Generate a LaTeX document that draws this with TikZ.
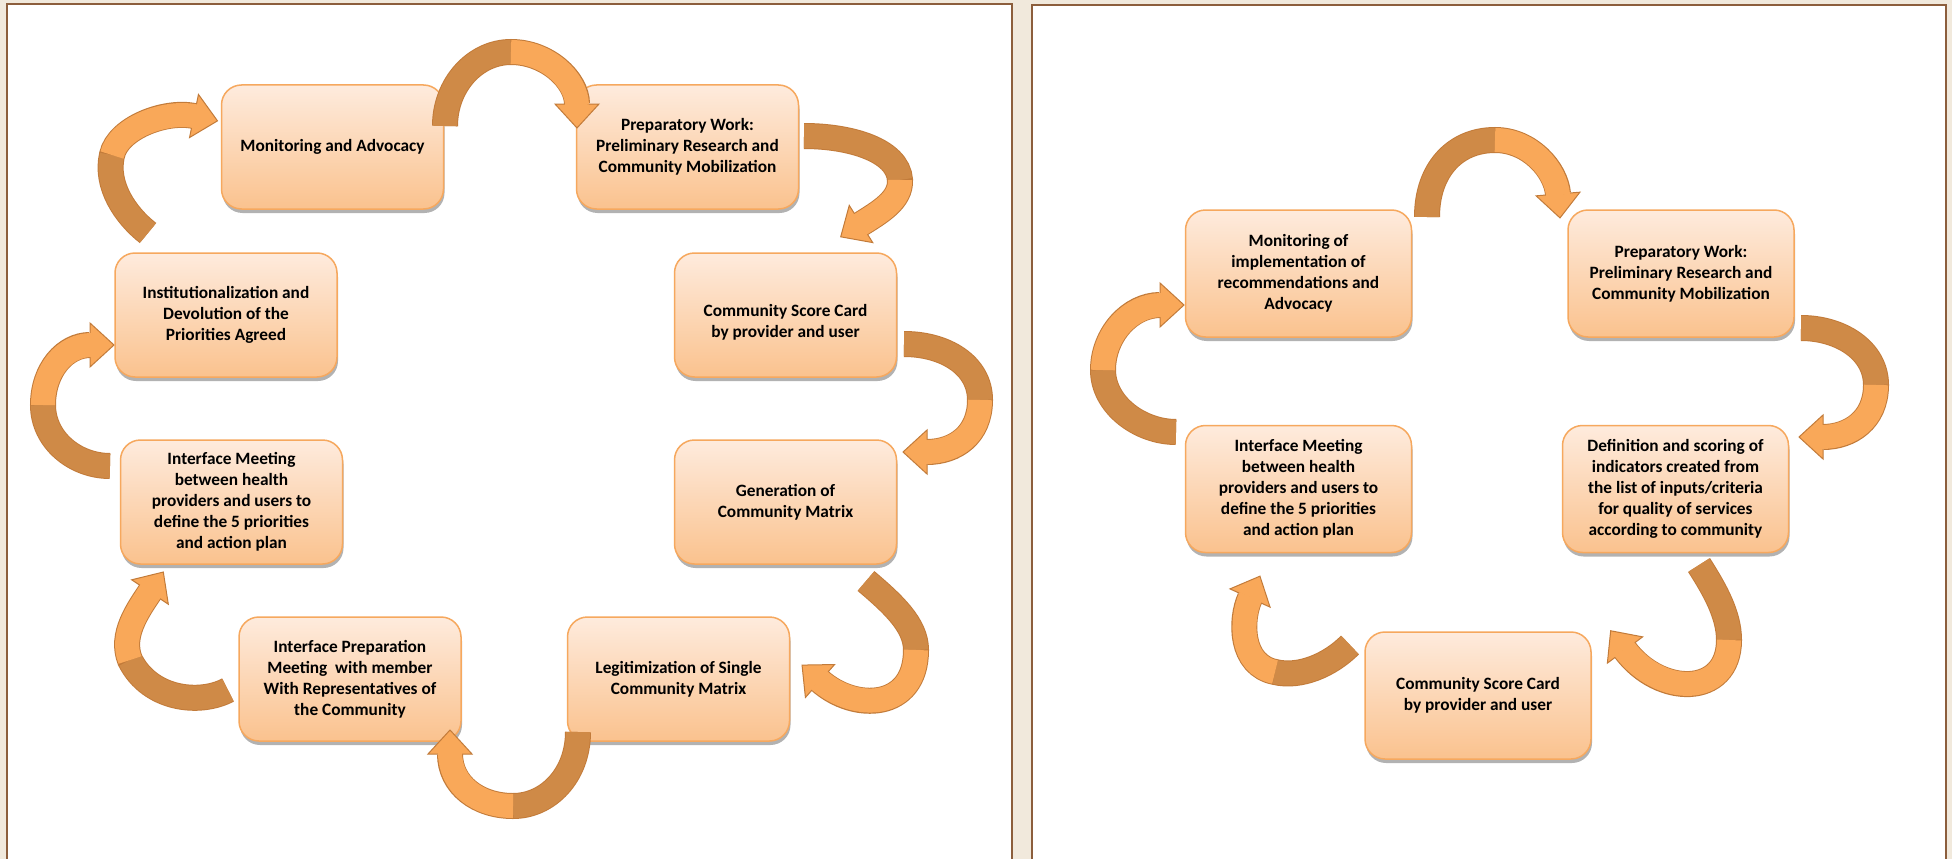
\documentclass[tikz,border=0pt]{standalone}
\usepackage{fontspec}
\setmainfont{Carlito}
\usetikzlibrary{calc,shadows}
\definecolor{bg}{HTML}{F1E9DC}
\definecolor{frame}{HTML}{8C5E3C}
\definecolor{boxtop}{HTML}{FEEBDD}
\definecolor{boxbot}{HTML}{FAC28E}
\definecolor{boxedge}{HTML}{F6A85E}
\definecolor{adark}{HTML}{CF8A47}
\definecolor{alight}{HTML}{F9A859}
\definecolor{aedge}{HTML}{C27B3A}
\newcommand{\ribbon}[7]{%
  \draw[line width=26pt, draw=aedge] (#1) .. controls (#2) and (#3) .. (#4) .. controls (#5) and (#6) .. (#7);
  \filldraw[fill=alight, draw=aedge, line width=1pt, line join=miter] ($(#7)!22pt!90:(#6)$) -- ($(#7)!-24pt!(#6)$) -- ($(#7)!22pt!-90:(#6)$) -- cycle;
  \draw[line width=24pt, draw=adark] (#1) .. controls (#2) and (#3) .. (#4);
  \draw[line width=24pt, draw=alight, shorten >=-1.5pt] (#4) .. controls (#5) and (#6) .. (#7);
}
\tikzset{
  box/.style={draw=boxedge, line width=1.5pt, rounded corners=20pt,
    top color=boxtop, bottom color=boxbot, minimum width=222pt, minimum height=124pt,
    align=center, font=\fontsize{17.3}{21}\selectfont\bfseries, text=black,
    drop shadow={shadow xshift=1pt, shadow yshift=-4pt, opacity=0.3, fill=black}},
  rbox/.style={box, minimum width=226pt, minimum height=127pt}
}
\begin{document}
\begin{tikzpicture}[x=1pt,y=-1pt]
\useasboundingbox (0,0) rectangle (1952,859);
\fill[bg] (0,0) rectangle (1952,859);
\filldraw[fill=white, draw=frame, line width=2.5pt] (7,4) rectangle (1012,880);
\filldraw[fill=white, draw=frame, line width=2.5pt] (1032,5) rectangle (1946,880);
% left panel boxes
\node[box] (l1) at (332.5,147) {Monitoring and Advocacy};
\node[box] (l2) at (687.5,147) {Preparatory Work:\\Preliminary Research and\\Community Mobilization};
\node[box] (l3) at (785.5,315) {\rule{0pt}{26pt}Community Score Card\\by provider and user};
\node[box] (l4) at (785.5,502) {Generation of\\Community Matrix};
\node[box] (l5) at (678.5,679) {Legitimization of Single\\Community Matrix};
\node[box] (l6) at (350,679) {Interface Preparation\\Meeting\ \ with member\\With Representatives of\\the Community};
\node[box] (l7) at (231.5,502) {Interface Meeting\\between health\\providers and users to\\define the 5 priorities\\and action plan};
\node[box] (l8) at (226,315) {Institutionalization and\\Devolution of the\\Priorities Agreed};
% right panel boxes
\node[rbox] (r1) at (1298.5,273.5) {Monitoring of\\implementation of\\recommendations and\\Advocacy};
\node[rbox] (r2) at (1681,273.5) {Preparatory Work:\\Preliminary Research and\\Community Mobilization};
\node[rbox] (r3) at (1675.5,489) {Definition and scoring of\\indicators created from\\the list of inputs/criteria\\for quality of services\\according to community};
\node[rbox] (r4) at (1478,695.5) {Community Score Card\\by provider and user};
\node[rbox] (r5) at (1298.5,489) {Interface Meeting\\between health\\providers and users to\\define the 5 priorities\\and action plan};
% left panel arrows
\ribbon{445,126}{445,85}{475,52}{511,52}{547,52}{577,80}{577,104}
\ribbon{804,136}{850,136}{898,150}{900,180}{901,200}{880,212}{861,224}
\ribbon{904,344}{945,344}{980,365}{980,400}{980,435}{955,452}{927,452}
\ribbon{866,581}{893,604}{916,625}{916,650}{916,710}{855,712}{820,681}
\ribbon{578,732}{578,775}{548,806}{513,806}{478,806}{450,785}{450,754}
\ribbon{228,690}{200,705}{150,700}{130,660}{120,635}{138,610}{150,592}
\ribbon{110,466}{75,466}{43,440}{43,405}{43,370}{65,345}{90,345}
\ribbon{148,233}{125,215}{105,185}{112,155}{118,128}{165,110}{194,116}
% right panel arrows
\ribbon{1427,217}{1427,170}{1455,140}{1495,140}{1530,140}{1556,170}{1558,194}
\ribbon{1801,328}{1840,328}{1876,350}{1876,385}{1876,420}{1850,437}{1823,437}
\ribbon{1699,565}{1715,590}{1729,615}{1729,640}{1729,697}{1660,697}{1625,650}
\ribbon{1350,645}{1330,665}{1300,678}{1275,672}{1240,665}{1240,620}{1250,598}
\ribbon{1176,432}{1140,432}{1103,405}{1103,370}{1103,335}{1130,305}{1160,305}
\end{tikzpicture}
\end{document}
